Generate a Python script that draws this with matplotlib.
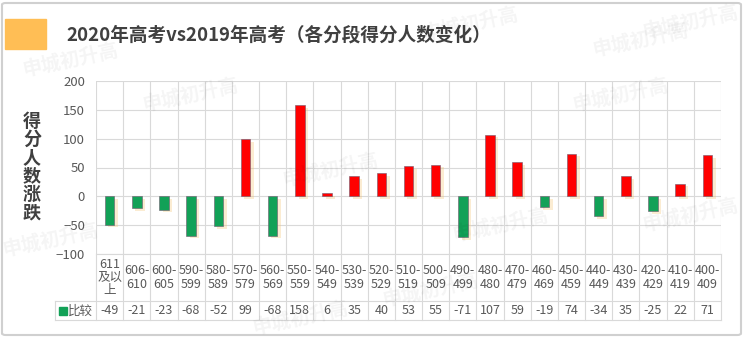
import numpy as np
import matplotlib
matplotlib.use("Agg")
import matplotlib.pyplot as plt
from matplotlib import patheffects as pe
from matplotlib.patches import Rectangle, FancyBboxPatch

plt.rcParams['font.family'] = ['Noto Sans CJK SC', 'DejaVu Sans']

# data
categories = ['611\n及以\n上', '606-\n610', '600-\n605', '590-\n599', '580-\n589',
              '570-\n579', '560-\n569', '550-\n559', '540-\n549', '530-\n539',
              '520-\n529', '510-\n519', '500-\n509', '490-\n499', '480-\n480',
              '470-\n479', '460-\n469', '450-\n459', '440-\n449', '430-\n439',
              '420-\n429', '410-\n419', '400-\n409']
values = [-49, -21, -23, -68, -52, 99, -68, 158, 6, 35, 40, 53, 55, -71, 107,
          59, -19, 74, -34, 35, -25, 22, 71]
series_name = '比较'
title = '2020年高考vs2019年高考（各分段得分人数变化）'
ylabel = '得分人数涨跌'
yticks = [-100, -50, 0, 50, 100, 150, 200]

RED = '#FF0000'
GREEN = '#12A157'
GRID = '#D9D9D9'
TXT = '#595959'

W, H = 744, 337
fig = plt.figure(figsize=(W / 100, H / 100), dpi=100)

n = len(values)
x = np.arange(n)

# main plot
ax = fig.add_axes([96 / W, 1 - 254 / H, 625 / W, 173 / H])
ax.set_xlim(-0.5, n - 0.5)
ax.set_ylim(yticks[0], yticks[-1])
ax.set_yticks(yticks)
ax.set_xticks([])
ax.tick_params(axis='y', length=0, pad=8, labelsize=9.5, labelcolor=TXT)
for s in ax.spines.values():
    s.set_visible(False)
for t in yticks:
    ax.axhline(t, color=GRID, lw=0.8, zorder=0)
for b in np.arange(-0.5, n, 1):
    ax.axvline(b, color=GRID, lw=0.8, zorder=0)

colors = [RED if v > 0 else GREEN for v in values]
shadow = [pe.SimplePatchShadow(offset=(2.5, -2), shadow_rgbFace='#F5C16C', alpha=0.3),
          pe.Normal()]
bars = ax.bar(x, values, width=0.35, color=colors, edgecolor='#6E5A6E',
              linewidth=0.4, zorder=3)
for bar in bars:
    bar.set_path_effects(shadow)

# data table under the plot
tb = fig.add_axes([96 / W, 1 - 320 / H, 625 / W, 66 / H], sharex=ax)
tb.set_ylim(66, 0)
tb.axis('off')
for b in np.arange(-0.5, n, 1):
    tb.plot([b, b], [0, 66], color=GRID, lw=0.8, clip_on=False)
tb.plot([-0.5, n - 0.5], [0, 0], color=GRID, lw=0.8, clip_on=False)
tb.plot([-2.0, n - 0.5], [47, 47], color=GRID, lw=0.8, clip_on=False)
tb.plot([-2.0, n - 0.5], [66, 66], color=GRID, lw=0.8, clip_on=False)
tb.plot([-2.0, -2.0], [47, 66], color=GRID, lw=0.8, clip_on=False)
for i, (c, v) in enumerate(zip(categories, values)):
    tb.text(i, 23.5, c, ha='center', va='center', fontsize=9, color=TXT,
            linespacing=1.0, clip_on=False)
    tb.text(i, 56.8, str(v), ha='center', va='center', fontsize=9, color=TXT,
            clip_on=False)
tb.plot([-1.72], [56.5], marker='s', ms=6, color=GREEN, clip_on=False)
tb.text(-1.55, 56.8, series_name, ha='left', va='center', fontsize=9,
        color=TXT, clip_on=False)

# title block
fig.patches.append(Rectangle((5 / W, 1 - 49 / H), 41 / W, 30 / H,
                             transform=fig.transFigure, color='#FFBE55'))
fig.text(66 / W, 1 - 35 / H, title, fontsize=13.4, fontweight='bold',
         color='#404040', ha='left', va='center')
fig.text(32 / W, 1 - 167 / H, '\n'.join(ylabel), fontsize=13,
         fontweight='bold', color='#404040', ha='center', va='center',
         linespacing=0.95)

# watermarks
marks = [(470, 24), (640, 40), (690, 22), (190, 95), (330, 170), (620, 95),
         (500, 225), (70, 60), (300, 318), (690, 215), (50, 240), (430, 290)]
for mx, my in marks:
    fig.text(mx / W, 1 - my / H, '申城初升高', fontsize=14, fontweight='bold',
             color='#000000', alpha=0.045, rotation=12, ha='center',
             va='center')

# outer frame
fig.patches.append(FancyBboxPatch((2 / W, 2 / H), 739 / W, 332 / H,
                                  boxstyle='round,pad=0,rounding_size=0.005',
                                  transform=fig.transFigure, fill=False,
                                  edgecolor='#D0D0D0', lw=1.5))

fig.savefig('out.png', dpi=100)
